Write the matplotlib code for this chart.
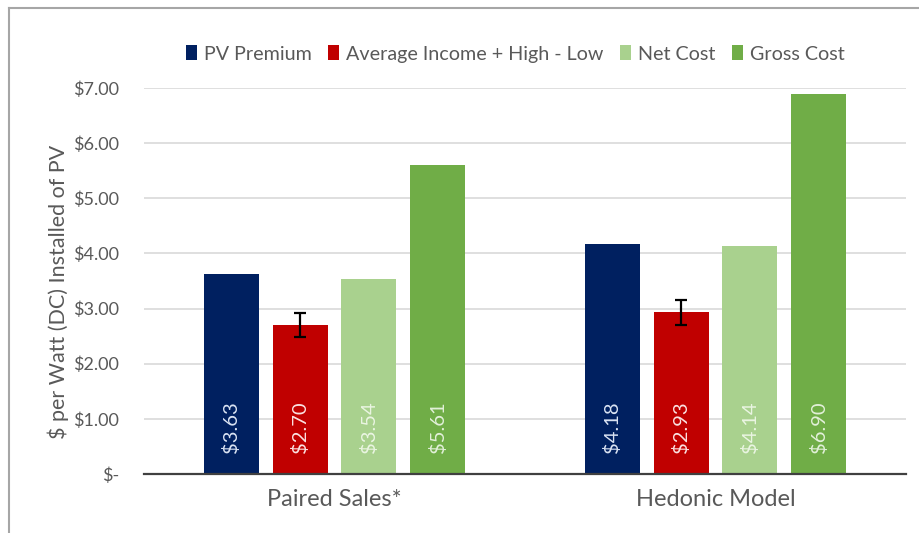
import matplotlib
matplotlib.use("Agg")
import matplotlib.pyplot as plt
import numpy as np
from matplotlib.patches import Patch

plt.rcParams['font.family'] = ['Lato', 'DejaVu Sans']

categories = ["Paired Sales*", "Hedonic Model"]
series_names = ["PV Premium", "Average Income + High - Low", "Net Cost", "Gross Cost"]
pv_premium = [3.63, 4.18]
avg_income = [2.70, 2.93]
net_cost = [3.54, 4.14]
gross_cost = [5.61, 6.90]
avg_income_err = [0.22, 0.22]
y_ticks = [0, 1, 2, 3, 4, 5, 6, 7]
y_tick_labels = ["$-", "$1.00", "$2.00", "$3.00", "$4.00", "$5.00", "$6.00", "$7.00"]

series = [pv_premium, avg_income, net_cost, gross_cost]
colors = ["#002060", "#C00000", "#A9D18E", "#70AD47"]
label_colors = ["#DAE3F3", "#FBE2E2", "#EAF5E2", "#E2F0D9"]

W, H = 919, 533
fig = plt.figure(figsize=(W / 100, H / 100), dpi=100)
fig.patch.set_facecolor("white")

# chart frame
fig.add_artist(plt.Line2D([8.5 / W, 8.5 / W], [0, 1 - 7.5 / H], color="#A6A6A6", lw=1.5))
fig.add_artist(plt.Line2D([8.5 / W, 1], [1 - 7.5 / H, 1 - 7.5 / H], color="#A6A6A6", lw=1.5))

left, right, top, bottom = 144, 906, 88, 474
ax = fig.add_axes([left / W, 1 - bottom / H, (right - left) / W, (bottom - top) / H])

x = np.arange(len(categories))
width = 0.1444
step = 0.181
offsets = (np.arange(4) - 1.5) * step

for i, (vals, c, lc) in enumerate(zip(series, colors, label_colors)):
    xs = x + offsets[i]
    kw = {}
    if i == 1:
        kw = dict(yerr=avg_income_err, capsize=4.5,
                  error_kw=dict(ecolor="black", elinewidth=1.6, capthick=1.6))
    ax.bar(xs, vals, width=width, color=c, zorder=3, label=series_names[i], **kw)
    for xi, v in zip(xs, vals):
        ax.annotate(f"${v:.2f}", xy=(xi, 0), xytext=(0, 21), textcoords="offset pixels",
                    rotation=90, ha="center", va="bottom", color=lc, fontsize=14.5, zorder=5)

ax.set_xlim(-0.5, 1.5)
ax.set_ylim(0, 7)
ax.set_yticks(y_ticks)
ax.set_yticklabels(y_tick_labels, color="#595959", fontsize=13)
ax.set_xticks(x)
ax.set_xticklabels(categories, color="#595959", fontsize=17)
ax.tick_params(axis="y", length=0, pad=18)
ax.tick_params(axis="x", length=0, pad=11)
ax.yaxis.grid(True, color="#D9D9D9", lw=1.2, zorder=0)
ax.set_axisbelow(True)
for s in ["top", "right", "left"]:
    ax.spines[s].set_visible(False)
ax.spines["bottom"].set_color("#404040")
ax.spines["bottom"].set_linewidth(1.6)
ax.spines["bottom"].set_zorder(4)

fig.text(58 / W, 1 - 292 / H, "$ per Watt (DC) Installed of PV", rotation=90,
         ha="center", va="center", color="#595959", fontsize=15.5)

handles = [Patch(facecolor=c, edgecolor="none") for c in colors]
fig.legend(handles, series_names, loc="center left", bbox_to_anchor=(168 / W, 1 - 54 / H),
           ncol=4, frameon=False, fontsize=14.2, handlelength=0.55, handleheight=0.8,
           handletextpad=0.35, columnspacing=0.85, labelcolor="#595959")

fig.savefig("out.png", dpi=100, facecolor="white")
